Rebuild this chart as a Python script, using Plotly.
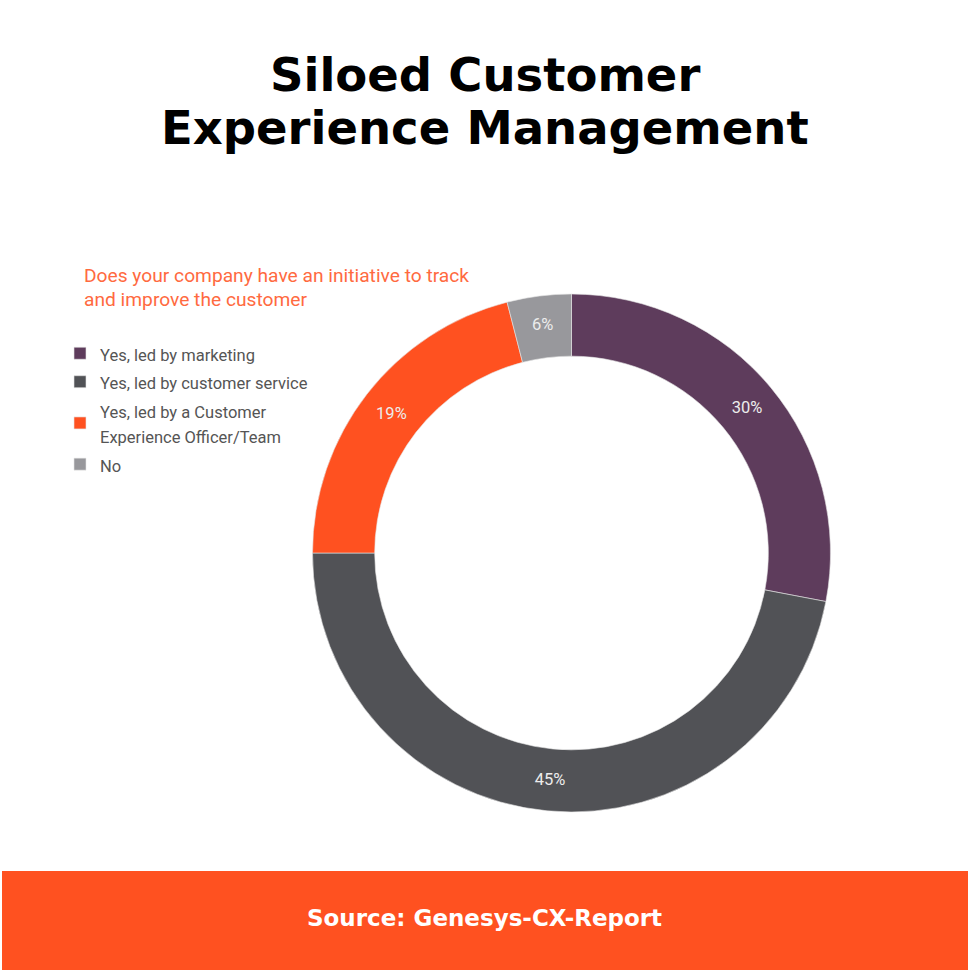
import plotly.graph_objects as go

# ---- data ----
categories = ["Yes, led by marketing",
              "Yes, led by customer service",
              "Yes, led by a Customer<br>Experience Officer/Team",
              "No"]
slice_shares = [28, 47, 21, 4]          # angular share as drawn
pct_labels = ["30%", "45%", "19%", "6%"]  # printed labels
colors = ["#5e3c5c", "#515256", "#ff5120", "#98989c"]

title_lines = ["Siloed Customer", "Experience Management"]
question_lines = ["Does your company have an initiative to track",
                  "and improve the customer"]
source_text = "Source: Genesys-CX-Report"

W = H = 970

# legend labels: smaller text inside a taller legend line to get wider item spacing
def styled(label):
    return "<br>".join("<span style='font-size:16.5px'>%s</span>" % part
                       for part in label.split("<br>"))

display_labels = [styled(c) for c in categories]

fig = go.Figure()
fig.add_trace(go.Pie(
    labels=display_labels,
    values=slice_shares,
    text=pct_labels,
    textinfo="text",
    textposition="inside",
    insidetextorientation="horizontal",
    textfont=dict(family="Roboto", size=16.5, color="#ececec"),
    hole=0.76,
    sort=False,
    direction="clockwise",
    rotation=0,
    marker=dict(colors=colors, line=dict(color="#e6e6e6", width=0.6)),
    domain=dict(x=[312 / W, 831 / W], y=[1 - 812 / H, 1 - 294 / H]),
    showlegend=True,
    hoverinfo="label+percent",
))

annotations = []
for i, line in enumerate(title_lines):
    annotations.append(dict(
        text=line, x=0.5, y=1 - (75 + 53 * i) / H, xref="paper", yref="paper",
        xanchor="center", yanchor="middle", showarrow=False, align="center",
        font=dict(family="DejaVu Sans", size=46.5, color="#000000", weight="bold"),
    ))
for i, line in enumerate(question_lines):
    annotations.append(dict(
        text=line, x=82 / W, y=1 - (275 + 24 * i) / H, xref="paper", yref="paper",
        xanchor="left", yanchor="middle", showarrow=False, align="left",
        font=dict(family="Roboto", size=19.2, color="#ff6a3f"),
    ))
annotations.append(dict(
    text=source_text, x=484 / W, y=1 - 918 / H, xref="paper", yref="paper",
    xanchor="center", yanchor="middle", showarrow=False,
    font=dict(family="DejaVu Sans", size=23, color="#ffffff", weight="bold"),
))

fig.update_layout(
    width=W, height=H,
    margin=dict(l=0, r=0, t=0, b=0),
    paper_bgcolor="#ffffff",
    plot_bgcolor="#ffffff",
    annotations=annotations,
    shapes=[dict(type="rect", xref="paper", yref="paper",
                 x0=2 / W, x1=968 / W, y0=0, y1=1 - 871 / H,
                 fillcolor="#ff5120", line=dict(width=0), layer="below")],
    legend=dict(
        x=60 / W, y=1 - 334 / H, xanchor="left", yanchor="top",
        font=dict(family="Roboto", size=19.6, color="#555555"),
        bgcolor="rgba(0,0,0,0)",
        traceorder="normal",
        itemclick=False,
    ),
)

fig.write_html("out.html")
